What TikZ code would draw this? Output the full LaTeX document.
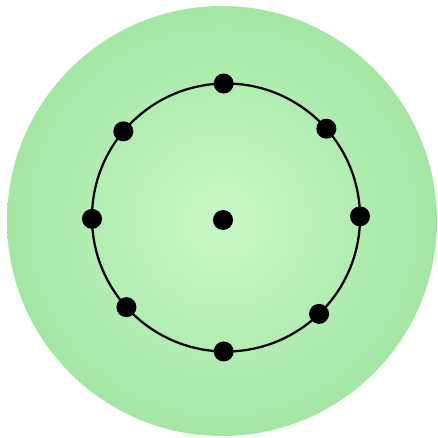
\documentclass[tikz,border=0pt]{standalone}
\usepackage{tikz}
\usetikzlibrary{positioning,calc}
\definecolor{diskin}{HTML}{C8F9C8}
\definecolor{diskout}{HTML}{A4E6A4}
\tikzset{
  disk/.style={shading=radial, inner color=diskin, outer color=diskout},
  ring/.style={draw=black, line width=1.6pt},
  dot/.style={circle, fill=black, inner sep=0pt, minimum size=0.5cm}
}
\begin{document}
\begin{tikzpicture}[x=0.025cm, y=-0.025cm]
    \useasboundingbox (0,0) rectangle (438,438);
    \shade[disk] (222,221) circle[radius=215];
    \coordinate (o) at (226,217.5);
    \draw[ring] (o) circle[radius=134];
    \node[dot] (c) at (223,220) {};
    \foreach \a [count=\n] in {91,41.5,0.5,-46,-91,-138,180.6,140}
      \node[dot] (p\n) at ($(o)+(\a:134 and -134)$) {};
  \end{tikzpicture}
\end{document}
